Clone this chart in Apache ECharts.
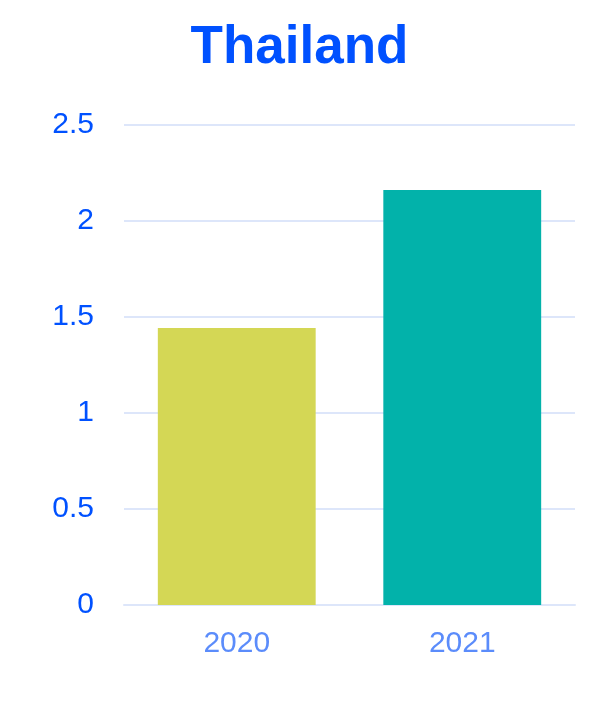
<!DOCTYPE html>
<html>
<head>
<meta charset="utf-8">
<script src="https://cdn.jsdelivr.net/npm/echarts@6/dist/echarts.min.js"></script>
<style>
  html, body { margin: 0; padding: 0; background: #fff; }
  #chart-container { width: 599px; height: 706px; }
</style>
</head>
<body>
<div id="chart-container"></div>
<script>
const years = ['2020', '2021'];
const values = [1.443, 2.161];
const barColors = ['#d4d755', '#02b2aa'];

const chartContainer = document.getElementById('chart-container');
const myChart = echarts.init(chartContainer);

const options = {
    backgroundColor: '#ffffff',
    animation: false,
    title: {
        text: 'Thailand',
        left: 'center',
        top: 17,
        textStyle: {
            color: '#0051ff',
            fontFamily: 'Liberation Sans',
            fontWeight: 'bold',
            fontSize: 53
        }
    },
    grid: {
        left: 124,
        right: 24,
        top: 125,
        bottom: 101
    },
    xAxis: {
        type: 'category',
        data: years,
        axisLine: { lineStyle: { color: '#dde6fa', width: 2 } },
        axisTick: { show: false },
        axisLabel: {
            color: '#5b8cfb',
            fontFamily: 'Liberation Sans',
            fontSize: 30,
            margin: 24
        }
    },
    yAxis: {
        type: 'value',
        min: 0,
        max: 2.5,
        interval: 0.5,
        axisLine: { show: false },
        axisTick: { show: false },
        splitLine: { lineStyle: { color: '#dde6fa', width: 2 } },
        axisLabel: {
            color: '#0051ff',
            fontFamily: 'Liberation Sans',
            fontSize: 30,
            margin: 30
        }
    },
    series: [{
        type: 'bar',
        barWidth: '70%',
        data: values.map((v, i) => ({
            value: v,
            itemStyle: { color: barColors[i] }
        }))
    }]
};

myChart.setOption(options);
</script>
</body>
</html>
